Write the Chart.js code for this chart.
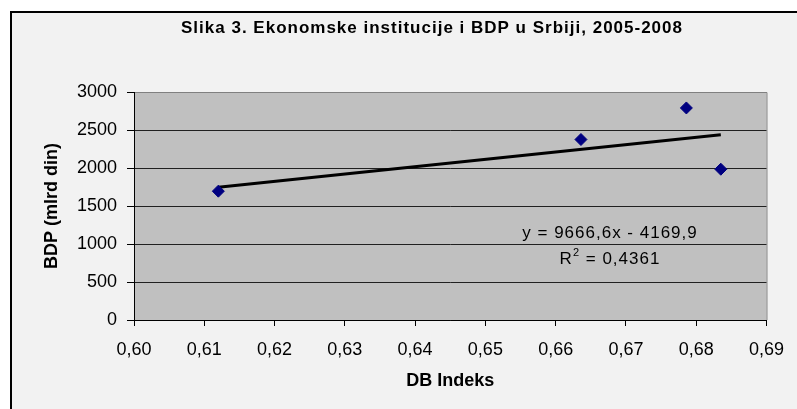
<!DOCTYPE html>
<html>
<head>
<meta charset="utf-8">
<script src="https://cdn.jsdelivr.net/npm/chart.js@4"></script>
<style>
  html, body { margin: 0; padding: 0; background: #ffffff; }
  #wrap { width: 797px; height: 409px; }
</style>
</head>
<body>
<div id="wrap"><canvas id="c" width="797" height="409"></canvas></div>
<script>
// podaci (ocitano sa slike)
const dbIndeks = [0.6120, 0.6636, 0.6786, 0.6835];
const bdp = [1695, 2375, 2790, 1984];
const xRange = [0.60, 0.69];
const yRange = [0, 3000];
const xStep = 0.01;
const yStep = 500;
// linija trenda iz Excel oznake
const trendSlope = 9666.6;
const trendIntercept = -4169.9;
const chartTitle = 'Slika 3. Ekonomske institucije i BDP u Srbiji, 2005-2008';
const eqText = 'y = 9666,6x - 4169,9';
const r2Text = '0,4361';

const FONT = '"Liberation Sans", Arial, sans-serif';

const xMin = Math.min(...dbIndeks);
const xMax = Math.max(...dbIndeks);
const trendPoints = [xMin, xMax].map(x => ({ x: x, y: trendSlope * x + trendIntercept }));

// pozadina, okvir i tekstovi
const excelLook = {
  id: 'excelLook',
  beforeDraw(chart) {
    const ctx = chart.ctx;
    const a = chart.chartArea;
    ctx.save();
    ctx.fillStyle = '#ffffff';
    ctx.fillRect(0, 0, chart.width, chart.height);
    ctx.fillStyle = '#f2f2f2';
    ctx.fillRect(10, 11, chart.width - 10, chart.height - 11);
    ctx.strokeStyle = '#000000';
    ctx.lineWidth = 2;
    ctx.beginPath();
    ctx.moveTo(11, chart.height);
    ctx.lineTo(11, 12);
    ctx.lineTo(chart.width, 12);
    ctx.stroke();
    ctx.fillStyle = '#c0c0c0';
    ctx.fillRect(a.left, a.top, a.right - a.left, a.bottom - a.top);
    ctx.strokeStyle = '#808080';
    ctx.lineWidth = 1;
    ctx.beginPath();
    ctx.moveTo(a.left, a.top + 0.5);
    ctx.lineTo(a.right + 0.5, a.top + 0.5);
    ctx.lineTo(a.right + 0.5, a.bottom);
    ctx.stroke();
    ctx.fillStyle = '#000000';
    ctx.font = 'bold 17px ' + FONT;
    ctx.letterSpacing = '1px';
    ctx.textAlign = 'center';
    ctx.textBaseline = 'middle';
    ctx.fillText(chartTitle, 432, 28);
    ctx.restore();
  },
  afterDatasetsDraw(chart) {
    const ctx = chart.ctx;
    const a = chart.chartArea;
    ctx.save();
    ctx.fillStyle = '#000000';
    ctx.letterSpacing = '1px';
    ctx.font = '17px ' + FONT;
    ctx.textAlign = 'center';
    ctx.textBaseline = 'middle';
    const cx = a.left + 476;
    ctx.fillText(eqText, cx, 233);
    // R^2 sa eksponentom
    const base = 'R';
    const rest = ' = ' + r2Text;
    const wR = ctx.measureText(base).width;
    ctx.font = '11px ' + FONT;
    const wSup = ctx.measureText('2').width;
    ctx.font = '17px ' + FONT;
    const wRest = ctx.measureText(rest).width;
    let x0 = cx - (wR + wSup + wRest) / 2;
    ctx.textAlign = 'left';
    ctx.fillText(base, x0, 259);
    ctx.font = '11px ' + FONT;
    ctx.fillText('2', x0 + wR, 253);
    ctx.font = '17px ' + FONT;
    ctx.fillText(rest, x0 + wR + wSup, 259);
    ctx.restore();
  }
};

new Chart(document.getElementById('c'), {
  type: 'scatter',
  data: {
    datasets: [
      {
        label: 'BDP',
        data: dbIndeks.map((x, i) => ({ x: x, y: bdp[i] })),
        pointStyle: 'rectRot',
        pointRadius: 6,
        pointHoverRadius: 6,
        backgroundColor: '#000080',
        borderColor: '#000080',
        borderWidth: 1,
        order: 1
      },
      {
        type: 'line',
        label: 'Trend',
        data: trendPoints,
        borderColor: '#000000',
        borderWidth: 3,
        pointRadius: 0,
        fill: false,
        order: 2
      }
    ]
  },
  plugins: [excelLook],
  options: {
    responsive: false,
    animation: false,
    events: [],
    layout: { padding: { top: 92, right: 30, left: 0, bottom: 0 } },
    plugins: {
      legend: { display: false },
      tooltip: { enabled: false }
    },
    scales: {
      x: {
        type: 'linear',
        min: xRange[0],
        max: xRange[1],
        afterFit: s => { s.height = 89; },
        ticks: {
          stepSize: xStep,
          color: '#000000',
          font: { family: FONT, size: 18 },
          padding: 13,
          maxRotation: 0,
          autoSkip: false,
          callback: v => v.toFixed(2).replace('.', ',')
        },
        grid: { display: true, drawOnChartArea: false, drawTicks: true, tickLength: 6, color: '#000000' },
        border: { display: true, color: '#000000', width: 1 },
        title: {
          display: true,
          text: 'DB Indeks',
          color: '#000000',
          font: { family: FONT, size: 18, weight: 'bold' },
          padding: { top: 0, bottom: 17 }
        }
      },
      y: {
        type: 'linear',
        min: yRange[0],
        max: yRange[1],
        afterFit: s => { s.width = 134; },
        ticks: {
          stepSize: yStep,
          color: '#000000',
          font: { family: FONT, size: 18 },
          padding: 10,
          callback: v => String(v)
        },
        grid: {
          color: ctx => (ctx.tick && ctx.tick.value === yRange[1]) ? '#808080' : '#202020',
          tickColor: '#000000',
          tickLength: 7,
          lineWidth: 1
        },
        border: { display: true, color: '#000000', width: 1 },
        title: {
          display: true,
          text: 'BDP (mlrd din)',
          color: '#000000',
          font: { family: FONT, size: 18, weight: 'bold' },
          padding: { top: 41, bottom: 0 }
        }
      }
    }
  }
});
</script>
</body>
</html>
